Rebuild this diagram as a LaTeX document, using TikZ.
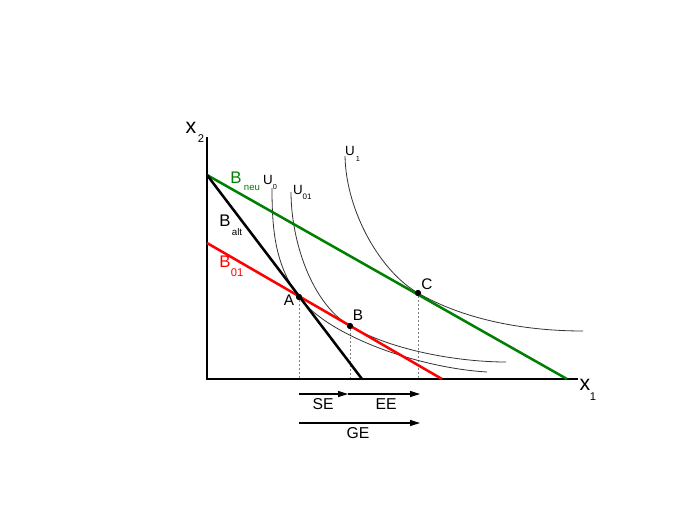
\documentclass[tikz,border=0pt]{standalone}
\usepackage{fontspec}
\setmainfont{Liberation Sans}
\usetikzlibrary{arrows.meta}
\definecolor{bgreen}{RGB}{0,128,0}
\definecolor{bred}{RGB}{255,0,0}
\begin{document}
\begin{tikzpicture}[x=0.75pt,y=-0.75pt,
  budget/.style={line width=1.9pt},
  icurve/.style={line width=0.6pt, black!80},
  guide/.style={dash pattern=on 1.5pt off 1.5pt, gray, line width=0.5pt},
  axis/.style={line width=0.8pt},
  dot/.style={circle, fill=black, inner sep=0pt, minimum size=4.5pt},
  effect/.style={-{Triangle[length=7.5pt,width=4.5pt]}, line width=0.8pt},
  txt/.style={inner sep=0pt},
  bigsz/.style={txt, font=\fontsize{12.6}{14}\selectfont},
  ptsz/.style={txt, font=\fontsize{11.5}{13}\selectfont},
  arsz/.style={txt, font=\fontsize{11.8}{13}\selectfont},
  usz/.style={txt, font=\fontsize{10}{11}\selectfont}]
\useasboundingbox (0,0) rectangle (680,510);
% axes
\coordinate (O) at (207,379);
\coordinate (Ytop) at (207,137);
\coordinate (Xend) at (578,379);
% budget line ends
\coordinate (Top) at (207,175);
\coordinate (NeuEnd) at (567,379);
\coordinate (AltEnd) at (362,379);
\coordinate (R0) at (207,243);
\coordinate (REnd) at (442,379);
% points
\node[dot] (A) at (299,297) {};
\node[dot] (B) at (350,326) {};
\node[dot] (C) at (418,293) {};
% curve ends
\coordinate (U0s) at (272,188);
\coordinate (U0e) at (487,372);
\coordinate (U01s) at (291,192);
\coordinate (U01e) at (506,362);
\coordinate (U1s) at (345,156);
\coordinate (U1e) at (583,331);
% guides
\draw[guide] (A) -- (A |- O);
\draw[guide] (B) -- (B |- O);
\draw[guide] (C) -- (C |- O);
% indifference curves
\draw[icurve] (U0s) .. controls (272,230) and (275,265) .. (A.center)
  .. controls (329,337) and (420,368) .. (U0e);
\draw[icurve] (U01s) .. controls (291,240) and (311,303) .. (B.center)
  .. controls (393,351) and (460,362) .. (U01e);
\draw[icurve] (U1s) .. controls (346,212) and (381,272) .. (C.center)
  .. controls (461,318) and (520,331) .. (U1e);
% axes
\draw[axis] (Ytop) -- (O) -- (Xend);
% budget lines
\draw[budget, bgreen] (Top) -- (NeuEnd);
\draw[budget, bred] (R0) -- (REnd);
\draw[budget, black] (Top) -- (AltEnd);
\node[dot] at (A) {};
\node[dot] at (B) {};
\node[dot] at (C) {};
% axis labels
\node[txt, font=\fontsize{16}{18}\selectfont] (x2) at (191,128) {x};
\node[txt, font=\fontsize{8.4}{10}\selectfont] (x2s) at (201,139) {2};
\node[txt, font=\fontsize{16}{18}\selectfont] (x1) at (585,385) {x};
\node[txt, font=\fontsize{8.4}{10}\selectfont] (x1s) at (593,397) {1};
% budget labels
\node[bigsz, text=bgreen] (Bneu) at (236,178) {B};
\node[txt, font=\fontsize{7.2}{8}\selectfont, text=bgreen] (Bneus) at (252,188) {neu};
\node[bigsz] (Balt) at (225,221) {B};
\node[txt, font=\fontsize{7.3}{8}\selectfont] (Balts) at (237,232) {alt};
\node[bigsz, text=bred] (B01) at (225,262) {B};
\node[txt, font=\fontsize{8.4}{10}\selectfont, text=bred] (B01s) at (237,273) {01};
% curve labels
\node[usz] (U0l) at (268,180) {U};
\node[txt, font=\fontsize{5.5}{6}\selectfont] (U0ls) at (275,187) {0};
\node[usz] (U01l) at (298,190) {U};
\node[txt, font=\fontsize{6}{7}\selectfont] (U01ls) at (307,197) {01};
\node[usz] (U1l) at (350,151) {U};
\node[txt, font=\fontsize{5.5}{6}\selectfont] (U1ls) at (358,159) {1};
% point labels
\node[ptsz] (Al) at (289,300) {A};
\node[ptsz] (Bl) at (358,315) {B};
\node[ptsz] (Cl) at (427,284) {C};
% effect arrows
\coordinate (S0) at (299,394);
\coordinate (S1) at (348,394);
\coordinate (S2) at (420,394);
\coordinate (G0) at (299,423);
\coordinate (G1) at (420,423);
\draw[effect] (S0) -- (S1);
\draw[effect] (S1) -- (S2);
\draw[effect] (G0) -- (G1);
\node[arsz] (SE) at (323,404) {SE};
\node[arsz] (EE) at (386,404) {EE};
\node[arsz] (GE) at (358,433) {GE};
\end{tikzpicture}
\end{document}
